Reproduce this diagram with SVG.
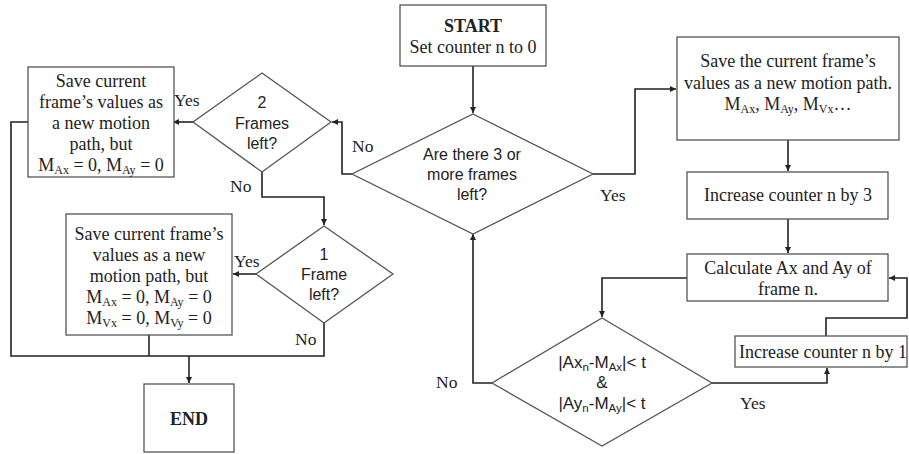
<svg xmlns="http://www.w3.org/2000/svg" width="909" height="454" viewBox="0 0 909 454">
<defs>
<marker id="arr" markerUnits="userSpaceOnUse" markerWidth="7" markerHeight="6" refX="6" refY="3" orient="auto">
<path d="M0,0 L6,3 L0,6 z" fill="#222"/>
</marker>
<style>
.box{fill:#fff;stroke:#555;stroke-width:1.3}
.dia{fill:#fff;stroke:#555;stroke-width:1.3}
.con{fill:none;stroke:#222;stroke-width:1.6}
.arr{marker-end:url(#arr)}
.t{font-family:"Liberation Serif","Times New Roman",serif;font-size:18px;fill:#222;text-anchor:middle}
.b{font-weight:bold}
.s{font-family:"Liberation Sans",Arial,sans-serif;font-size:16px;fill:#222;text-anchor:middle}
.s2{font-family:"Liberation Sans",Arial,sans-serif;font-size:17px;fill:#222;text-anchor:middle}
.l{font-family:"Liberation Serif","Times New Roman",serif;font-size:17.5px;fill:#222}
.sub{font-size:12px}
.sub2{font-size:11.5px}
</style>
</defs>
<rect width="909" height="454" fill="#fff"/>

<g id="connectors">
<path class="con arr" d="M473,66 V113"/>
<path class="con arr" d="M352,174 H342 V122 H332"/>
<path class="con arr" d="M193,122 H173"/>
<path class="con" d="M28,122 H11 V356 H324 V323"/>
<path class="con" d="M149,335 V356"/>
<path class="con arr" d="M189,356 V383"/>
<path class="con arr" d="M262,172 V197 H324 V225"/>
<path class="con arr" d="M256,274 H233"/>
<path class="con arr" d="M592,174 H635 V89 H676"/>
<path class="con arr" d="M788,140 V171"/>
<path class="con arr" d="M788,219 V253"/>
<path class="con arr" d="M687,278 H602 V317"/>
<path class="con arr" d="M492,383 H473 V234"/>
<path class="con arr" d="M712,383 H827 V368"/>
<path class="con arr" d="M826,336 V318 H907 V278 H889"/>
</g>

<g id="start">
<rect class="box" x="400" y="5" width="146" height="61"/>
<text class="t b" x="473" y="32">START</text>
<text class="t" x="473" y="53">Set counter n to 0</text>
</g>

<g id="q3frames">
<polygon class="dia" points="473,114 593,174 473,234 352,174"/>
<text class="s" x="472" y="160">Are there 3 or</text>
<text class="s" x="472" y="180">more frames</text>
<text class="s" x="472" y="200">left?</text>
</g>

<g id="q2frames">
<polygon class="dia" points="262,73 331,122 262,172 193,122"/>
<text class="s" x="262" y="108">2</text>
<text class="s" x="262" y="129">Frames</text>
<text class="s" x="262" y="149">left?</text>
</g>

<g id="save2">
<rect class="box" x="28" y="67" width="146" height="110"/>
<text class="t" x="101" y="87">Save current</text>
<text class="t" x="101" y="108">frame’s values as</text>
<text class="t" x="101" y="129">a new motion</text>
<text class="t" x="101" y="150">path, but</text>
<text class="t" x="101" y="171">M<tspan class="sub" dy="3">Ax</tspan><tspan dy="-3"> = 0, M</tspan><tspan class="sub" dy="3">Ay</tspan><tspan dy="-3"> = 0</tspan></text>
</g>

<g id="q1frame">
<polygon class="dia" points="324,226 393,274 324,323 256,274"/>
<text class="s" x="324" y="260">1</text>
<text class="s" x="324" y="280">Frame</text>
<text class="s" x="324" y="300">left?</text>
</g>

<g id="save1">
<rect class="box" x="66" y="214" width="166" height="121"/>
<text class="t" x="149" y="240">Save current frame’s</text>
<text class="t" x="149" y="261">values as a new</text>
<text class="t" x="149" y="282">motion path, but</text>
<text class="t" x="149" y="303">M<tspan class="sub" dy="3">Ax</tspan><tspan dy="-3"> = 0, M</tspan><tspan class="sub" dy="3">Ay</tspan><tspan dy="-3"> = 0</tspan></text>
<text class="t" x="149" y="324">M<tspan class="sub" dy="3">Vx</tspan><tspan dy="-3"> = 0, M</tspan><tspan class="sub" dy="3">Vy</tspan><tspan dy="-3"> = 0</tspan></text>
</g>

<g id="end">
<rect class="box" x="144" y="384" width="90" height="68"/>
<text class="t b" x="189" y="425">END</text>
</g>

<g id="save3">
<rect class="box" x="677" y="37" width="222" height="103"/>
<text class="t" x="788" y="67">Save the current frame’s</text>
<text class="t" x="788" y="89">values as a new motion path.</text>
<text class="t" x="788" y="110">M<tspan class="sub" dy="3">Ax</tspan><tspan dy="-3">, M</tspan><tspan class="sub" dy="3">Ay</tspan><tspan dy="-3">, M</tspan><tspan class="sub" dy="3">Vx</tspan><tspan dy="-3">…</tspan></text>
</g>

<g id="inc3">
<rect class="box" x="687" y="172" width="201" height="47"/>
<text class="t" x="788" y="201">Increase counter n by 3</text>
</g>

<g id="calc">
<rect class="box" x="687" y="254" width="201" height="47"/>
<text class="t" x="788" y="274">Calculate Ax and Ay of</text>
<text class="t" x="788" y="295">frame n.</text>
</g>

<g id="qthresh">
<polygon class="dia" points="602,318 712,383 602,446 492,383"/>
<text class="s2" x="602" y="368">|Ax<tspan class="sub2" dy="3">n</tspan><tspan dy="-3">-M</tspan><tspan class="sub2" dy="3">Ax</tspan><tspan dy="-3">|&lt; t</tspan></text>
<text class="s2" x="602" y="388">&amp;</text>
<text class="s2" x="602" y="409">|Ay<tspan class="sub2" dy="3">n</tspan><tspan dy="-3">-M</tspan><tspan class="sub2" dy="3">Ay</tspan><tspan dy="-3">|&lt; t</tspan></text>
</g>

<g id="inc1">
<rect class="box" x="735" y="336" width="172" height="31"/>
<text class="t" x="823" y="358">Increase counter n by 1</text>
</g>

<g id="labels">
<text class="l" x="174" y="106">Yes</text>
<text class="l" x="230" y="192">No</text>
<text class="l" x="352" y="152">No</text>
<text class="l" x="600" y="201">Yes</text>
<text class="l" x="234" y="267">Yes</text>
<text class="l" x="295" y="345">No</text>
<text class="l" x="436" y="388">No</text>
<text class="l" x="740" y="409">Yes</text>
</g>
</svg>
